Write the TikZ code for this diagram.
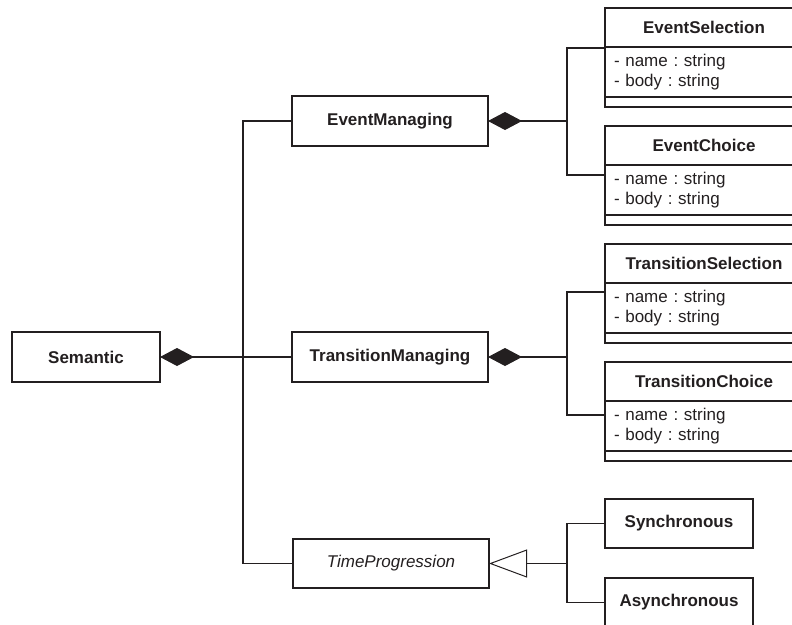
\documentclass[tikz,border=0pt]{standalone}
\usepackage{fontspec}
\setmainfont{Liberation Sans}
\usetikzlibrary{arrows.meta,calc}
\definecolor{ink}{HTML}{231F20}
\frenchspacing
\tikzset{
  base/.style={draw=ink, line width=1.5pt, rectangle, inner sep=0pt, outer sep=0pt, anchor=north west, text=ink},
  box/.style={base, font=\fontsize{17}{20}\selectfont\bfseries},
  abox/.style={base, font=\fontsize{17}{20}\selectfont\itshape},
  ctitle/.style={box, minimum width=198pt, minimum height=39pt},
  cattr/.style={base, font=\fontsize{17}{20}\selectfont\frenchspacing, minimum width=198pt, minimum height=50pt,
     text width=180pt, align=left, inner xsep=9pt},
  cmeth/.style={base, minimum width=198pt, minimum height=10pt},
  conn/.style={draw=ink, line width=1.5pt},
  compo/.style={conn, {Diamond[fill=ink, width=18pt, length=34pt, line width=1pt]}-},
  gener/.style={conn, {Triangle[open, width=28pt, length=38pt, line width=1pt]}-},
}
\begin{document}
\begin{tikzpicture}[x=1pt, y=-1pt]
\useasboundingbox (0,0) rectangle (792,624);
\clip (0,0) rectangle (792,624);

% left and middle classes
\node[box, minimum width=148pt, minimum height=50pt] (sem) at (12,332) {Semantic};
\node[box, minimum width=196pt, minimum height=50pt] (em) at (292,96) {EventManaging};
\node[box, minimum width=196pt, minimum height=50pt] (tm) at (292,332) {TransitionManaging};
\node[abox, minimum width=196pt, minimum height=49pt] (tp) at (293,539) {TimeProgression};

% right classes with compartments
\node[ctitle] (es) at (605,8) {EventSelection};
\node[cattr] (es-a) at (es.south west) {- name : string\\- body : string};
\node[cmeth] (es-m) at (es-a.south west) {};

\node[ctitle] (ec) at (605,126) {EventChoice};
\node[cattr] (ec-a) at (ec.south west) {- name : string\\- body : string};
\node[cmeth] (ec-m) at (ec-a.south west) {};

\node[ctitle] (ts) at (605,244) {TransitionSelection};
\node[cattr] (ts-a) at (ts.south west) {- name : string\\- body : string};
\node[cmeth] (ts-m) at (ts-a.south west) {};

\node[ctitle] (tc) at (605,362) {TransitionChoice};
\node[cattr] (tc-a) at (tc.south west) {- name : string\\- body : string};
\node[cmeth] (tc-m) at (tc-a.south west) {};

\node[box, minimum width=148pt, minimum height=49pt] (sy) at (605,499) {Synchronous};
\node[box, minimum width=148pt, minimum height=49pt] (as) at (605,578) {Asynchronous};

% junction points
\coordinate (trunk) at (243,357);
\coordinate (ej) at (567,121);
\coordinate (tj) at (567,357);
\coordinate (gj) at (567,563.5);

% Semantic composition
\draw[compo] (sem.east) -- (tm.west);
\draw[conn] (em.west) -| (trunk) |- (tp.west);

% EventManaging composition
\draw[compo] (em.east) -- (ej);
\draw[conn] (ej) |- ($(es-a.north west)+(0,1)$);
\draw[conn] (ej) |- ($(ec-a.north west)+(0,10)$);

% TransitionManaging composition
\draw[compo] (tm.east) -- (tj);
\draw[conn] (tj) |- ($(ts-a.north west)+(0,9)$);
\draw[conn] (tj) |- ($(tc-a.north west)+(0,14)$);

% TimeProgression generalisation
\draw[gener] (tp.east) -- (gj);
\draw[conn] (gj) |- (sy.west);
\draw[conn] (gj) |- (as.west);
\end{tikzpicture}
\end{document}
